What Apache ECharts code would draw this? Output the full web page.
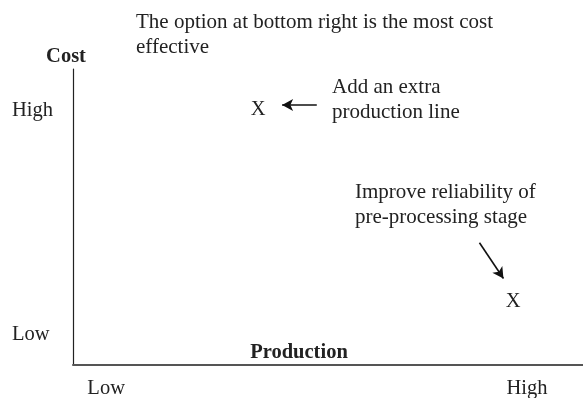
<!DOCTYPE html>
<html>
<head>
<meta charset="utf-8">
<script src="https://cdn.jsdelivr.net/npm/echarts@6/dist/echarts.min.js"></script>
<style>
  html, body { margin: 0; padding: 0; background: #fff; }
  #chart { width: 583px; height: 398px; }
</style>
</head>
<body>
<div id="chart"></div>
<script>
// axis ticks (0..100 scale on both axes)
const xTickValues = [6.5, 89];
const xTickLabels = ['Low', 'High'];
const yTickValues = [10.1, 85.8];
const yTickLabels = ['Low', 'High'];

// the two options: [production, cost]
const optionNames = ['Add an extra production line', 'Improve reliability of pre-processing stage'];
const optionPoints = [[36.3, 86.2], [86.3, 21.3]];

// arrows pointing at each option: [from, to]
const arrows = [
  [[47.8, 87.8], [41.0, 87.8]],
  [[79.7, 41.3], [84.4, 29.2]]
];

const SERIF = "'Liberation Serif', 'DejaVu Serif', serif";
const INK = '#222';
const FS = 21;

var chart = echarts.init(document.getElementById('chart'));

chart.setOption({
  animation: false,
  title: {
    text: 'The option at bottom right is the most cost\neffective',
    left: 131,
    top: 5,
    textStyle: { fontFamily: SERIF, fontWeight: 'normal', fontSize: FS, color: INK, lineHeight: 25 }
  },
  grid: { left: 73, right: 0, top: 69, bottom: 33, containLabel: false, outerBoundsMode: 'none' },
  xAxis: {
    type: 'value',
    min: 0,
    max: 100,
    name: 'Production',
    nameLocation: 'middle',
    nameGap: -23,
    nameMoveOverlap: false,
    nameTextStyle: { fontFamily: SERIF, fontWeight: 'bold', fontSize: 20.5, color: INK, padding: [0, 58, 0, 0] },
    axisLine: { show: true, lineStyle: { color: '#555', width: 2 } },
    axisTick: { show: false },
    splitLine: { show: false },
    axisLabel: {
      customValues: xTickValues,
      formatter: function (v) { return xTickLabels[xTickValues.indexOf(v)] || ''; },
      margin: 13,
      fontFamily: SERIF, fontSize: 20.5, color: INK
    }
  },
  yAxis: {
    type: 'value',
    min: 0,
    max: 100,
    name: 'Cost',
    nameLocation: 'end',
    nameGap: 2,
    nameMoveOverlap: false,
    nameTextStyle: { fontFamily: SERIF, fontWeight: 'bold', fontSize: 20.5, color: INK, padding: [0, 14, 0, 0] },
    axisLine: { show: true, lineStyle: { color: '#222', width: 1.2 } },
    axisTick: { show: false },
    splitLine: { show: false },
    axisLabel: {
      customValues: yTickValues,
      formatter: function (v) { return yTickLabels[yTickValues.indexOf(v)] || ''; },
      align: 'left',
      margin: 61,
      fontFamily: SERIF, fontSize: 20.5, color: INK
    }
  },
  series: [
    {
      name: 'options',
      type: 'scatter',
      symbol: 'circle',
      symbolSize: 1,
      silent: true,
      itemStyle: { color: 'rgba(0,0,0,0)' },
      label: {
        show: true,
        position: 'inside',
        formatter: 'X',
        textBorderWidth: 0,
        opacity: 1,
        fontFamily: SERIF, fontSize: 20.5, color: INK
      },
      data: optionPoints.map(function (p, i) { return { name: optionNames[i], value: p }; }),
      markLine: {
        silent: true,
        symbol: ['none', 'arrow'],
        symbolSize: [9, 11],
        label: { show: false },
        lineStyle: { color: '#111', width: 1.6, type: 'solid' },
        data: arrows.map(function (a) { return [{ coord: a[0] }, { coord: a[1] }]; })
      }
    }
  ],
  graphic: [
    {
      type: 'text', left: 332, top: 75,
      style: { text: 'Add an extra\nproduction line', font: FS + 'px ' + SERIF, fill: INK, lineHeight: 25 }
    },
    {
      type: 'text', left: 355, top: 180,
      style: { text: 'Improve reliability of\npre-processing stage', font: FS + 'px ' + SERIF, fill: INK, lineHeight: 25 }
    }
  ]
});
</script>
</body>
</html>
